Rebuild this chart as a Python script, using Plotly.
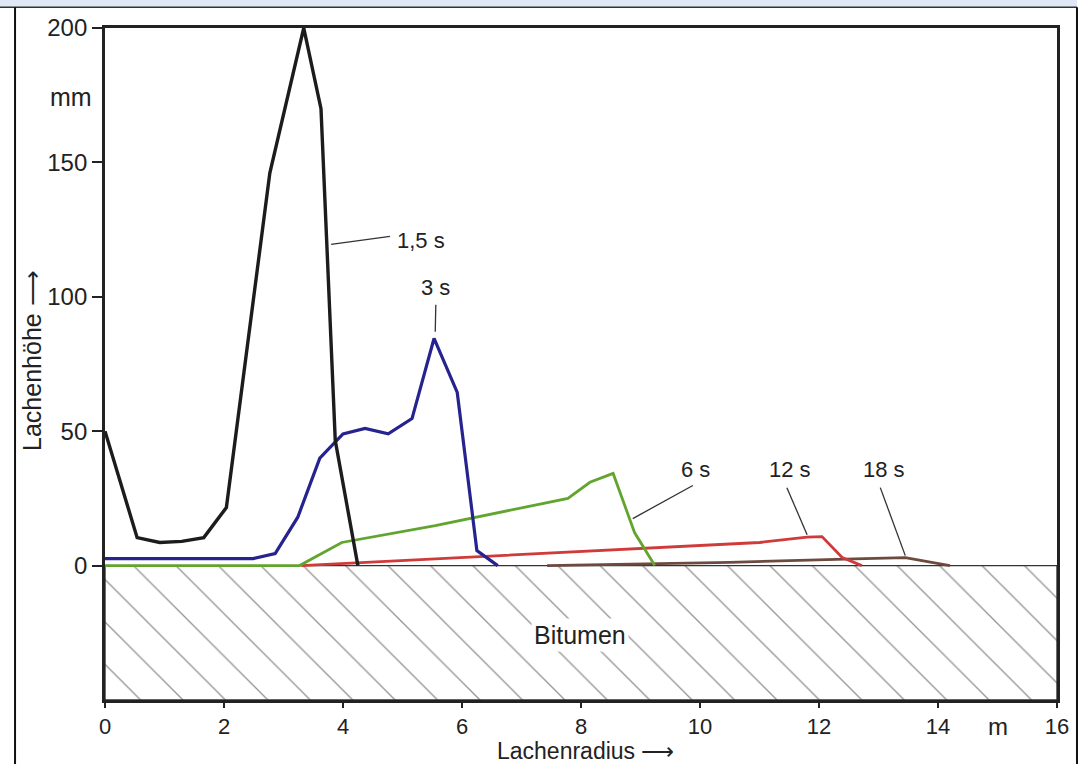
import plotly.graph_objects as go

# ---- data ----
t15_x = [0, 0.54, 0.92, 1.29, 1.66, 2.04, 2.77, 3.34, 3.63, 3.87, 4.25]
t15_y = [50, 10.4, 8.6, 9.0, 10.4, 21.6, 146, 200, 170, 46.5, 0]

t3_x = [0, 2.49, 2.86, 3.24, 3.61, 4.0, 4.37, 4.76, 5.16, 5.53, 5.92, 6.25, 6.6]
t3_y = [2.6, 2.6, 4.5, 18, 40, 49, 51, 49, 54.7, 84.5, 64.4, 5.6, 0]

t6_x = [0, 3.27, 3.98, 4.62, 5.55, 7.78, 8.15, 8.54, 8.9, 9.24]
t6_y = [0, 0, 8.6, 11.2, 14.9, 25, 31, 34.3, 12.3, 0]

t12_x = [3.3, 11.0, 11.8, 12.05, 12.39, 12.72]
t12_y = [0, 8.6, 10.6, 10.8, 3.0, 0]

t18_x = [7.43, 10.5, 12.6, 13.45, 14.2]
t18_y = [0, 1.2, 2.5, 3.0, 0]

series_names = ["1,5 s", "3 s", "6 s", "12 s", "18 s"]
series_colors = ["#1c1c1c", "#26238f", "#62a52e", "#cf3a3a", "#6d4a40"]
series_widths = [3.4, 3.2, 2.8, 2.8, 2.8]

# label text positions and leader lines (start on curve -> end near label)
label_x = [4.87, 5.56, 9.92, 11.51, 13.1]
label_y = [121, 103.5, 35.6, 35.6, 35.6]
label_anchor = ["left", "center", "center", "center", "center"]
leader_x0 = [3.80, 5.55, 8.87, 11.80, 13.45]
leader_y0 = [119.5, 87, 17.5, 11.5, 3.7]
leader_x1 = [4.79, 5.56, 9.88, 11.46, 13.03]
leader_y1 = [122.5, 97, 29.8, 29, 29]

x_ticks = [0, 2, 4, 6, 8, 10, 12, 14, 16]
y_ticks = [0, 50, 100, 150, 200]
x_range = [0, 16]
y_range = [-50, 200]
bitumen_top = 0
bitumen_bottom = -50

FONT = "Liberation Sans, Arial, Helvetica, sans-serif"
TXT = "#222222"

fig = go.Figure()

# hatched bitumen layer
fig.add_trace(go.Scatter(
    x=[x_range[0], x_range[1], x_range[1], x_range[0], x_range[0]],
    y=[bitumen_bottom, bitumen_bottom, bitumen_top, bitumen_top, bitumen_bottom],
    mode="lines", fill="toself",
    line=dict(color="#333333", width=1.4),
    fillcolor="white",
    fillpattern=dict(shape="\\", fgcolor="#2a2a2a", bgcolor="white", size=30, solidity=0.045),
    hoverinfo="skip", showlegend=False,
))

series = [(t15_x, t15_y), (t3_x, t3_y), (t6_x, t6_y), (t12_x, t12_y), (t18_x, t18_y)]
# draw in reverse so black and blue sit on top
for i in [4, 3, 2, 1, 0]:
    xs, ys = series[i]
    fig.add_trace(go.Scatter(
        x=xs, y=ys, mode="lines", name=series_names[i],
        line=dict(color=series_colors[i], width=series_widths[i]),
        showlegend=False,
    ))

shapes = []
for i in range(5):
    shapes.append(dict(type="line", xref="x", yref="y",
                       x0=leader_x0[i], y0=leader_y0[i], x1=leader_x1[i], y1=leader_y1[i],
                       line=dict(color="#333333", width=1.3)))

# scan artefacts around the figure (page edge, neighbouring frame)
shapes.append(dict(type="rect", xref="paper", yref="paper",
                   x0=-0.12, x1=1.021, y0=1.031, y1=1.05,
                   fillcolor="#dfe8f7", line=dict(width=0), layer="below"))
shapes.append(dict(type="line", xref="paper", yref="paper",
                   x0=-0.1103, x1=1.021, y0=1.031, y1=1.031,
                   line=dict(color="#333333", width=1.5)))
shapes.append(dict(type="line", xref="paper", yref="paper",
                   x0=-0.0945, x1=-0.0945, y0=1.031, y1=-0.1,
                   line=dict(color="#111111", width=2)))
shapes.append(dict(type="line", xref="paper", yref="paper",
                   x0=1.021, x1=1.021, y0=1.031, y1=-0.1,
                   line=dict(color="#111111", width=2)))

annotations = []
for i in range(5):
    annotations.append(dict(x=label_x[i], y=label_y[i], xref="x", yref="y",
                            text=series_names[i], showarrow=False,
                            xanchor=label_anchor[i], yanchor="middle",
                            font=dict(family=FONT, size=22, color=TXT)))
annotations.append(dict(x=7.98, y=-26, xref="x", yref="y", text="Bitumen", showarrow=False,
                        bgcolor="white", borderpad=2, xanchor="center", yanchor="middle",
                        font=dict(family=FONT, size=25, color=TXT)))
annotations.append(dict(x=-0.036, y=174.5, xref="paper", yref="y", text="mm", showarrow=False,
                        xanchor="center", yanchor="middle",
                        font=dict(family=FONT, size=25, color=TXT)))
annotations.append(dict(x=15, y=-0.04, xref="x", yref="paper", text="m", showarrow=False,
                        xanchor="center", yanchor="middle",
                        font=dict(family=FONT, size=24, color=TXT)))
annotations.append(dict(x=-0.0767, y=0.506, xref="paper", yref="paper",
                        text="Lachenhöhe ⟶", textangle=-90, showarrow=False,
                        xanchor="center", yanchor="middle",
                        font=dict(family=FONT, size=25, color=TXT)))
annotations.append(dict(x=0.505, y=-0.0759, xref="paper", yref="paper",
                        text="Lachenradius ⟶", showarrow=False,
                        xanchor="center", yanchor="middle",
                        font=dict(family=FONT, size=23, color=TXT)))

fig.update_layout(
    width=1090, height=764,
    margin=dict(l=105, r=33, t=28, b=64),
    paper_bgcolor="white", plot_bgcolor="white",
    shapes=shapes, annotations=annotations,
    showlegend=False,
)
fig.update_xaxes(range=x_range, tickvals=x_ticks, ticks="outside", ticklen=5, tickwidth=2,
                 tickcolor="#222", showline=True, linewidth=2.8, linecolor="#222", mirror=True,
                 showgrid=False, zeroline=False,
                 tickfont=dict(family=FONT, size=22, color=TXT))
fig.update_yaxes(range=y_range, tickvals=y_ticks, ticks="outside", ticklen=10, tickwidth=2,
                 tickcolor="#222", showline=True, linewidth=2.8, linecolor="#222", mirror=True,
                 showgrid=False, zeroline=False,
                 tickfont=dict(family=FONT, size=24, color=TXT))

fig.write_html("out.html")
